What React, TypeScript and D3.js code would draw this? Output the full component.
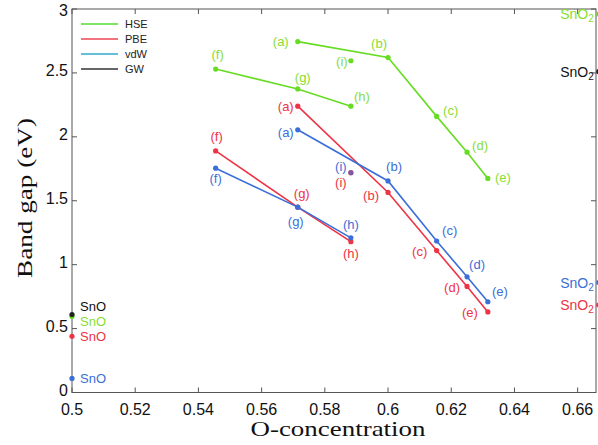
import React from "react";
import * as d3 from "d3";

// structures (a)..(i): O-concentration and band gap per method
const structs = ["a", "b", "c", "d", "e", "f", "g", "h", "i"];
const oConc = [4 / 7, 3 / 5, 8 / 13, 5 / 8, 12 / 19, 6 / 11, 4 / 7, 10 / 17, 10 / 17];
const hseGap = [2.745, 2.62, 2.16, 1.88, 1.675, 2.53, 2.375, 2.24, 2.595];
const pbeGap = [2.24, 1.565, 1.11, 0.83, 0.63, 1.89, 1.45, 1.18, 1.72];
const vdwGap = [2.055, 1.655, 1.185, 0.905, 0.71, 1.755, 1.45, 1.21, 1.72];
const chains = [[0, 1, 2, 3, 4], [5, 6, 7]];

// reference compounds
const methods = ["HSE", "PBE", "vdW", "GW"];
const snoGap = [0.595, 0.44, 0.11, 0.61];
const sno2Gap = [2.96, 0.685, 0.86, 2.51];

const xTicks = [0.5, 0.52, 0.54, 0.56, 0.58, 0.6, 0.62, 0.64, 0.66];
const yTicks = [0, 0.5, 1, 1.5, 2, 2.5, 3];

// label offsets (px) for the (a)..(i) tags
const hseOff = [[-17, 0], [-9, -14], [14, -6], [13, -7], [15, -1], [2, -15], [5, -11], [11, -10], [-9, 1]];
const pbeOff = [[-12, 0], [-17, 3], [-17, 1], [-15, 1], [-18, 1], [1, -14], [4, -14], [0, 12], [-10, 10]];
const vdwOff = [[-12, 3], [6, -14], [13, -11], [10, -12], [12, -10], [0, 10], [-2, 14], [0, -13], [-10, -6]];

const lineColor = { HSE: "#66dd22", PBE: "#ee3344", vdW: "#3a6fd8", GW: "#222222" };
const textColor = { HSE: "#88dd33", PBE: "#ee3344", vdW: "#3a6fd8", GW: "#111111" };
const legendColor = { HSE: "#55dd33", PBE: "#ee4455", vdW: "#33aacc", GW: "#333333" };
const snoOffY = [5, 0, 0, -8];

export default function App() {
  const width = 598, height = 445;
  const left = 72, right = 596, top = 9, bottom = 392.5;

  const x = d3.scaleLinear().domain([0.5, 0.6658]).range([left, right]);
  const y = d3.scaleLinear().domain([0, 3]).range([bottom, top]);

  const series = [
    { name: "HSE", gap: hseGap, off: hseOff },
    { name: "PBE", gap: pbeGap, off: pbeOff },
    { name: "vdW", gap: vdwGap, off: vdwOff },
  ];

  const line = d3.line<number>().x(i => x(oConc[i]));
  const sans = "'Liberation Sans', Arial, sans-serif";
  const serif = "'Liberation Serif', 'DejaVu Serif', serif";

  return (
    <svg width={width} height={height} style={{ position: "absolute", left: 0, top: 0, background: "#fff" }}>
      {/* frame */}
      <rect x={left} y={top} width={right - left} height={bottom - top} fill="none" stroke="#555" strokeWidth={1} />
      {xTicks.map(t => (
        <g key={"x" + t}>
          <line x1={x(t)} x2={x(t)} y1={bottom} y2={bottom - 5} stroke="#555" />
          <line x1={x(t)} x2={x(t)} y1={top} y2={top + 5} stroke="#555" />
          <text x={x(t)} y={409} textAnchor="middle" dominantBaseline="central" fontFamily={sans} fontSize={16} fill="#111">{t}</text>
        </g>
      ))}
      {yTicks.map(t => (
        <g key={"y" + t}>
          <line x1={left} x2={left + 5} y1={y(t)} y2={y(t)} stroke="#555" />
          <line x1={right} x2={right - 5} y1={y(t)} y2={y(t)} stroke="#555" />
          <text x={left - 4} y={t === 3 ? y(t) + 1 : y(t) - 2} textAnchor="end" dominantBaseline="central" fontFamily={sans} fontSize={16} fill="#111">{t}</text>
        </g>
      ))}

      {/* axis titles */}
      <text x={338} y={436} textAnchor="middle" fontFamily={serif} fontSize={21} textLength={175} lengthAdjust="spacingAndGlyphs" fill="#111">O-concentration</text>
      <text transform={`translate(24,198) rotate(-90)`} textAnchor="middle" dominantBaseline="central" fontFamily={serif} fontSize={22} textLength={160} lengthAdjust="spacingAndGlyphs" fill="#111">Band gap (eV)</text>

      {/* legend */}
      {methods.map((m, i) => (
        <g key={"lg" + m} transform={`translate(81, ${24 + i * 15})`}>
          <line x1={0} x2={37} y1={0} y2={0} stroke={legendColor[m]} strokeWidth={1.5} />
          <text x={44} y={0} dominantBaseline="central" fontFamily={sans} fontSize={11} fill="#222">{m}</text>
        </g>
      ))}

      {/* structure series */}
      {series.map(s => (
        <g key={s.name}>
          {chains.map((c, k) => (
            <path key={k} d={line.y(i => y(s.gap[i]))(c) || ""} fill="none" stroke={lineColor[s.name]} strokeWidth={1.6} />
          ))}
          {structs.map((lab, i) => (
            <g key={lab}>
              <circle cx={x(oConc[i])} cy={y(s.gap[i])} r={2.6} fill={lineColor[s.name]} fillOpacity={s.name === "vdW" && lab === "i" ? 0.6 : 1} />
              <text x={x(oConc[i]) + s.off[i][0]} y={y(s.gap[i]) + s.off[i][1]} textAnchor="middle" dominantBaseline="central" fontFamily={sans} fontSize={13} fill={textColor[s.name]}>({lab})</text>
            </g>
          ))}
        </g>
      ))}

      {/* SnO at x = 0.5 */}
      {methods.map((m, i) => (
        <g key={"sno" + m}>
          <circle cx={x(0.5)} cy={y(snoGap[i])} r={2.6} fill={lineColor[m]} />
          <text x={x(0.5) + 8} y={y(snoGap[i]) + snoOffY[i]} dominantBaseline="central" fontFamily={sans} fontSize={13} fill={textColor[m]}>SnO</text>
        </g>
      ))}

      {/* SnO2 at x = 2/3 */}
      {methods.map((m, i) => (
        <g key={"sno2" + m}>
          <circle cx={x(2 / 3)} cy={y(sno2Gap[i])} r={2.6} fill={lineColor[m]} />
          <text x={x(2 / 3) - 5} y={y(sno2Gap[i])} textAnchor="end" dominantBaseline="central" fontFamily={sans} fontSize={14} fill={textColor[m]}>
            SnO<tspan fontSize={10} dy={4}>2</tspan>
          </text>
        </g>
      ))}
    </svg>
  );
}
